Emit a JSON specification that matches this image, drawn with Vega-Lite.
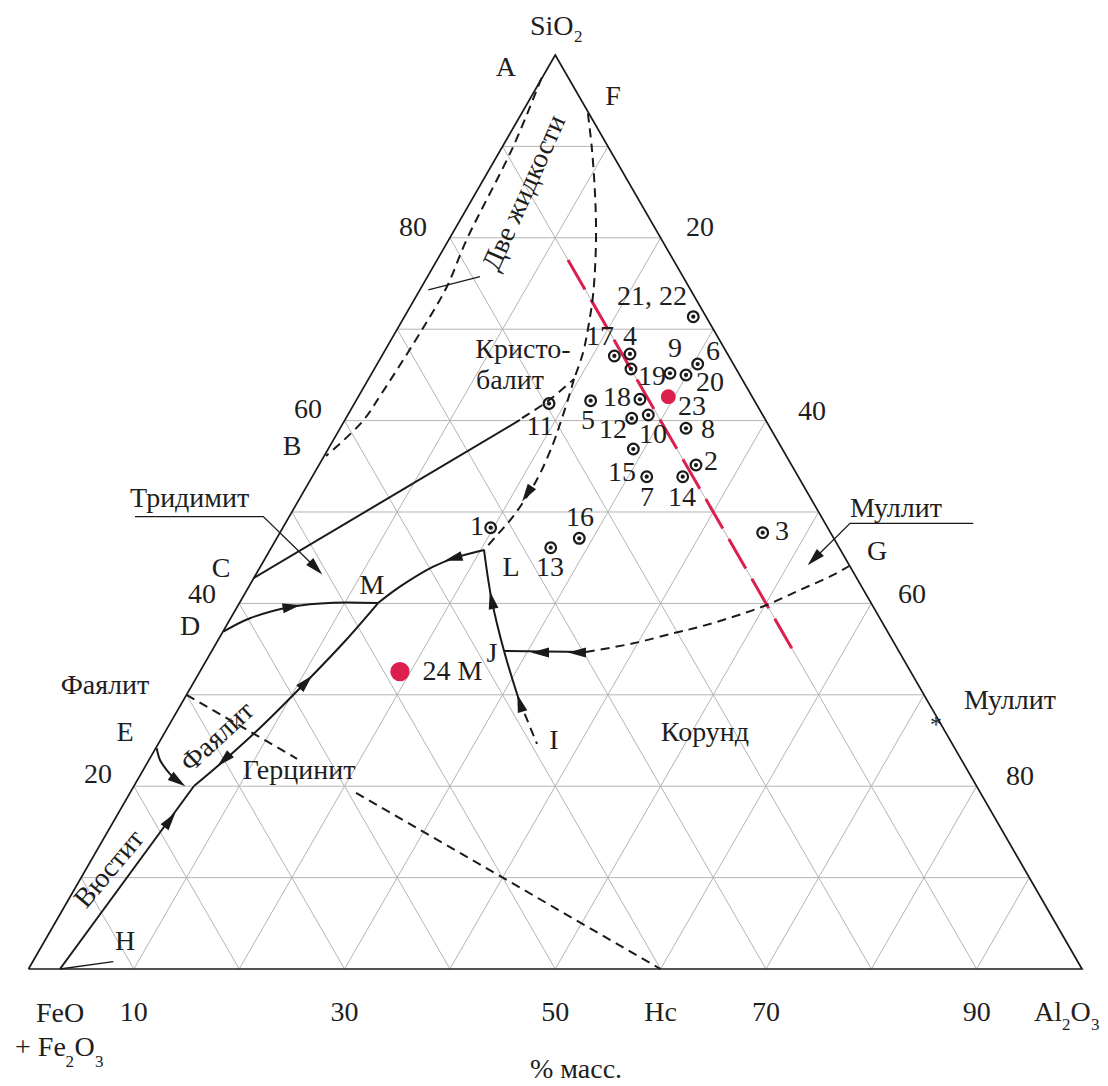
{
  "$schema": "https://vega.github.io/schema/vega-lite/v6.json",
  "width": 1108,
  "height": 1086,
  "padding": 0,
  "autosize": {"type": "none"},
  "background": "white",
  "config": {"view": {"stroke": null}},
  "datasets": {
    "grid": [
      {"g":"h10","X":5,"Y":10},{"g":"h10","X":95,"Y":10},
      {"g":"h20","X":10,"Y":20},{"g":"h20","X":90,"Y":20},
      {"g":"h30","X":15,"Y":30},{"g":"h30","X":85,"Y":30},
      {"g":"h40","X":20,"Y":40},{"g":"h40","X":80,"Y":40},
      {"g":"h50","X":25,"Y":50},{"g":"h50","X":75,"Y":50},
      {"g":"h60","X":30,"Y":60},{"g":"h60","X":70,"Y":60},
      {"g":"h70","X":35,"Y":70},{"g":"h70","X":65,"Y":70},
      {"g":"h80","X":40,"Y":80},{"g":"h80","X":60,"Y":80},
      {"g":"h90","X":45,"Y":90},{"g":"h90","X":55,"Y":90},
      {"g":"a10","X":10,"Y":0},{"g":"a10","X":55,"Y":90},
      {"g":"a20","X":20,"Y":0},{"g":"a20","X":60,"Y":80},
      {"g":"a30","X":30,"Y":0},{"g":"a30","X":65,"Y":70},
      {"g":"a40","X":40,"Y":0},{"g":"a40","X":70,"Y":60},
      {"g":"a50","X":50,"Y":0},{"g":"a50","X":75,"Y":50},
      {"g":"a60","X":60,"Y":0},{"g":"a60","X":80,"Y":40},
      {"g":"a70","X":70,"Y":0},{"g":"a70","X":85,"Y":30},
      {"g":"a80","X":80,"Y":0},{"g":"a80","X":90,"Y":20},
      {"g":"a90","X":90,"Y":0},{"g":"a90","X":95,"Y":10},
      {"g":"b10","X":10,"Y":0},{"g":"b10","X":5,"Y":10},
      {"g":"b20","X":20,"Y":0},{"g":"b20","X":10,"Y":20},
      {"g":"b30","X":30,"Y":0},{"g":"b30","X":15,"Y":30},
      {"g":"b40","X":40,"Y":0},{"g":"b40","X":20,"Y":40},
      {"g":"b50","X":50,"Y":0},{"g":"b50","X":25,"Y":50},
      {"g":"b60","X":60,"Y":0},{"g":"b60","X":30,"Y":60},
      {"g":"b70","X":70,"Y":0},{"g":"b70","X":35,"Y":70},
      {"g":"b80","X":80,"Y":0},{"g":"b80","X":40,"Y":80},
      {"g":"b90","X":90,"Y":0},{"g":"b90","X":45,"Y":90}
    ],
    "tri": [
      {"o":1,"X":0,"Y":0},{"o":2,"X":100,"Y":0},{"o":3,"X":50,"Y":100},{"o":4,"X":0,"Y":0}
    ],
    "solid": [
      {"g":"CP","o":1,"X":21.34,"Y":42.75},{"g":"CP","o":2,"X":46.65,"Y":60.07},
      {"g":"LM","o":1,"X":43.24,"Y":45.84},{"g":"LM","o":2,"X":40.32,"Y":44.93},{"g":"LM","o":3,"X":38.42,"Y":44.02},{"g":"LM","o":4,"X":35.26,"Y":41.83},{"g":"LM","o":5,"X":33.18,"Y":40.04},
      {"g":"DM","o":1,"X":18.49,"Y":36.9},{"g":"DM","o":2,"X":21.02,"Y":38.37},{"g":"DM","o":3,"X":24.98,"Y":39.64},{"g":"DM","o":4,"X":28.93,"Y":40.08},{"g":"DM","o":5,"X":33.18,"Y":40.04},
      {"g":"MK","o":1,"X":33.18,"Y":40.04},{"g":"MK","o":2,"X":30.14,"Y":36.0},{"g":"MK","o":3,"X":26.34,"Y":31.4},{"g":"MK","o":4,"X":22.16,"Y":26.59},{"g":"MK","o":5,"X":18.18,"Y":22.43},{"g":"MK","o":6,"X":15.71,"Y":20.02},
      {"g":"KH","o":1,"X":15.71,"Y":20.02},{"g":"KH","o":2,"X":2.99,"Y":0},
      {"g":"E","o":1,"X":12.17,"Y":24.15},{"g":"E","o":2,"X":12.48,"Y":22.87},{"g":"E","o":3,"X":13.12,"Y":21.77},{"g":"E","o":4,"X":13.81,"Y":20.9},
      {"g":"LJ","o":1,"X":43.24,"Y":45.84},{"g":"LJ","o":2,"X":43.97,"Y":40.37},{"g":"LJ","o":3,"X":45.14,"Y":34.79},{"g":"LJ","o":4,"X":46.56,"Y":29.43},
      {"g":"JG","o":1,"X":45.14,"Y":34.79},{"g":"JG","o":2,"X":52.92,"Y":34.68}
    ],
    "dashed": [
      {"g":"AB","o":1,"X":48.69,"Y":97.48},{"g":"AB","o":2,"X":45.99,"Y":89.93},{"g":"AB","o":3,"X":41.62,"Y":79.87},{"g":"AB","o":4,"X":39.7,"Y":74.62},{"g":"AB","o":5,"X":37.45,"Y":70.13},{"g":"AB","o":6,"X":33.55,"Y":63.02},{"g":"AB","o":7,"X":31.66,"Y":59.85},{"g":"AB","o":8,"X":28.24,"Y":56.13},
      {"g":"F","o":1,"X":53.1,"Y":93.6},{"g":"F","o":2,"X":53.46,"Y":89.97},{"g":"F","o":3,"X":53.77,"Y":84.9},{"g":"F","o":4,"X":53.87,"Y":79.87},{"g":"F","o":5,"X":53.61,"Y":73.96},{"g":"F","o":6,"X":53.14,"Y":70.27},{"g":"F","o":7,"X":52.63,"Y":67.4},{"g":"F","o":8,"X":51.78,"Y":64.55},
      {"g":"CPd","o":1,"X":46.84,"Y":60.28},{"g":"CPd","o":2,"X":49.31,"Y":62.14},{"g":"CPd","o":3,"X":51.78,"Y":64.55},
      {"g":"PL","o":1,"X":51.78,"Y":64.55},{"g":"PL","o":2,"X":51.4,"Y":63.02},{"g":"PL","o":3,"X":50.64,"Y":60.28},{"g":"PL","o":4,"X":49.81,"Y":57.52},{"g":"PL","o":5,"X":48.24,"Y":53.5},{"g":"PL","o":6,"X":45.99,"Y":49.49},{"g":"PL","o":7,"X":44.57,"Y":47.59},{"g":"PL","o":8,"X":43.24,"Y":45.84},
      {"g":"JI","o":1,"X":46.56,"Y":29.43},{"g":"JI","o":2,"X":48.27,"Y":24.62},
      {"g":"JGd","o":1,"X":52.92,"Y":34.68},{"g":"JGd","o":2,"X":57.41,"Y":35.63},{"g":"JGd","o":3,"X":61.2,"Y":36.73},{"g":"JGd","o":4,"X":63.74,"Y":37.45},{"g":"JGd","o":5,"X":66.9,"Y":38.54},{"g":"JGd","o":6,"X":70.07,"Y":39.83},{"g":"JGd","o":7,"X":73.23,"Y":41.47},{"g":"JGd","o":8,"X":76.39,"Y":43.11},{"g":"JGd","o":9,"X":77.9,"Y":44.09},
      {"g":"FH1","o":1,"X":15,"Y":30},{"g":"FH1","o":2,"X":25.49,"Y":23.0},
      {"g":"FH2","o":1,"X":31.09,"Y":19.27},{"g":"FH2","o":2,"X":60,"Y":0}
    ],
    "red": [
      {"X":51.21,"Y":77.57},{"X":72.7,"Y":34.6}
    ],
    "leader": [
      {"g":"t2","o":1,"X":37.95,"Y":74.29},{"g":"t2","o":2,"X":42.86,"Y":75.74},
      {"g":"H","o":1,"X":2.99,"Y":0},{"g":"H","o":2,"X":8.05,"Y":0.8},
      {"g":"T","o":1,"X":10.11,"Y":49.5},{"g":"T","o":2,"X":22.29,"Y":49.5},{"g":"T","o":3,"X":27.29,"Y":43.87},
      {"g":"Mu","o":1,"X":89.68,"Y":48.76},{"g":"Mu","o":2,"X":77.98,"Y":48.76},{"g":"Mu","o":3,"X":74.56,"Y":44.86}
    ],
    "arrows": [
      {"X":47.32,"Y":51.97,"dir":213},
      {"X":40.32,"Y":44.93,"dir":255},
      {"X":24.98,"Y":39.64,"dir":80},
      {"X":26.34,"Y":31.4,"dir":43},
      {"X":18.56,"Y":22.87,"dir":226},
      {"X":13.43,"Y":16.3,"dir":37},
      {"X":14.19,"Y":20.57,"dir":125},
      {"X":43.97,"Y":40.37,"dir":348},
      {"X":46.65,"Y":29.1,"dir":343},
      {"X":48.55,"Y":34.63,"dir":270},
      {"X":52.06,"Y":34.63,"dir":270},
      {"X":27.29,"Y":43.87,"dir":136},
      {"X":74.56,"Y":44.86,"dir":225}
    ],
    "samples": [
      {"n":"21, 22","X":63.1,"Y":71.37},
      {"n":"17","X":55.61,"Y":67.07},
      {"n":"4","X":57.09,"Y":67.29},
      {"n":"19","X":57.19,"Y":65.65},
      {"n":"9","X":60.89,"Y":65.18},
      {"n":"20","X":62.41,"Y":64.99},
      {"n":"6","X":63.52,"Y":66.19},
      {"n":"18","X":58.04,"Y":62.33},
      {"n":"5","X":53.36,"Y":62.18},
      {"n":"12","X":57.26,"Y":60.25},
      {"n":"10","X":58.83,"Y":60.61},
      {"n":"8","X":62.41,"Y":59.16},
      {"n":"11","X":49.41,"Y":61.87},
      {"n":"unlabelled","X":57.41,"Y":56.89},
      {"n":"7","X":58.68,"Y":53.86},
      {"n":"2","X":63.36,"Y":55.14},
      {"n":"14","X":62.1,"Y":53.86},
      {"n":"3","X":69.69,"Y":47.74},
      {"n":"1","X":43.87,"Y":48.28},
      {"n":"16","X":52.28,"Y":47.12},
      {"n":"13","X":49.57,"Y":46.09}
    ],
    "dot23": [{"n":"23","X":60.73,"Y":62.62}],
    "dot24": [{"n":"24","X":35.26,"Y":32.53}],
    "labels": [
      {"t":"A","X":45.32,"Y":98.58},
      {"t":"F","X":55.48,"Y":95.4},
      {"t":"80","X":36.5,"Y":81.07},
      {"t":"20","X":63.74,"Y":81.07},
      {"t":"60","X":26.53,"Y":61.16},
      {"t":"B","X":25.01,"Y":57.11},
      {"t":"40","X":74.37,"Y":60.94},
      {"t":"Кристо-","X":46.94,"Y":67.72},
      {"t":"балит","X":45.7,"Y":64.33},
      {"t":"Тридимит","X":15.3,"Y":51.39},
      {"t":"C","X":18.27,"Y":43.76},
      {"t":"40","X":16.47,"Y":40.92},
      {"t":"D","X":15.33,"Y":37.42},
      {"t":"M","X":32.61,"Y":41.9},
      {"t":"L","X":45.8,"Y":43.87},
      {"t":"J","X":44.0,"Y":34.46},
      {"t":"24 M","X":40.25,"Y":32.53},
      {"t":"I","X":49.88,"Y":24.95},
      {"t":"Фаялит","X":7.26,"Y":30.96},
      {"t":"E","X":9.16,"Y":25.82},
      {"t":"20","X":6.6,"Y":21.23},
      {"t":"Герцинит","X":25.68,"Y":21.66},
      {"t":"Корунд","X":64.21,"Y":25.82},
      {"t":"Муллит","X":82.34,"Y":50.33},
      {"t":"G","X":80.54,"Y":45.62},
      {"t":"60","X":83.86,"Y":40.92},
      {"t":"Муллит","X":93.16,"Y":29.32},
      {"t":"80","X":94.11,"Y":21.01},
      {"t":"H","X":9.16,"Y":2.95},
      {"t":"FeO","X":2.99,"Y":-4.92},
      {"t":"10","X":10,"Y":-4.81},
      {"t":"30","X":30,"Y":-4.81},
      {"t":"50","X":50,"Y":-4.81},
      {"t":"Hc","X":60,"Y":-4.81},
      {"t":"70","X":70,"Y":-4.81},
      {"t":"90","X":90,"Y":-4.81},
      {"t":"% масс.","X":51.97,"Y":-11.1},
      {"t":"21, 22","X":59.18,"Y":73.52},
      {"t":"17","X":54.25,"Y":69.15},
      {"t":"4","X":57.09,"Y":69.15},
      {"t":"9","X":61.37,"Y":67.83},
      {"t":"6","X":64.97,"Y":67.51},
      {"t":"19","X":59.18,"Y":64.77},
      {"t":"20","X":64.69,"Y":64.15},
      {"t":"18","X":55.86,"Y":62.47},
      {"t":"23","X":62.98,"Y":61.45},
      {"t":"5","X":53.11,"Y":59.96},
      {"t":"11","X":48.55,"Y":59.3},
      {"t":"12","X":55.48,"Y":58.97},
      {"t":"10","X":59.28,"Y":58.42},
      {"t":"8","X":64.5,"Y":58.97},
      {"t":"2","X":64.78,"Y":55.47},
      {"t":"15","X":56.34,"Y":54.27},
      {"t":"7","X":58.71,"Y":51.53},
      {"t":"14","X":62.03,"Y":51.53},
      {"t":"3","X":71.52,"Y":47.81},
      {"t":"1","X":42.57,"Y":48.36},
      {"t":"16","X":52.35,"Y":49.34},
      {"t":"13","X":49.5,"Y":43.87}
    ],
    "leftlabels": [
      {"t":"SiO","X":47.6,"Y":103.06},
      {"t":"+ Fe","X":-1.28,"Y":-8.64},
      {"t":"O","X":4.37,"Y":-8.64},
      {"t":"Al","X":95.45,"Y":-4.81},
      {"t":"O","X":98.91,"Y":-4.81}
    ],
    "subs": [
      {"t":"2","X":51.78,"Y":101.97},
      {"t":"2","X":3.51,"Y":-10.18},
      {"t":"3","X":6.31,"Y":-10.18},
      {"t":"2","X":98.1,"Y":-6.13},
      {"t":"3","X":100.86,"Y":-6.13}
    ],
    "star": [{"t":"*","X":86.14,"Y":26.7}],
    "rot1": [{"t":"Две жидкости","X":47.1,"Y":84.9}],
    "rot2": [{"t":"Фаялит","X":17.95,"Y":25.35}],
    "rot3": [{"t":"Вюстит","X":7.7,"Y":10.9}]
  },
  "encoding": {
    "x": {"field":"X","type":"quantitative","scale":{"domain":[-2.705,102.468],"nice":false,"zero":false},"axis":null},
    "y": {"field":"Y","type":"quantitative","scale":{"domain":[-12.801,106.017],"nice":false,"zero":false},"axis":null}
  },
  "layer": [
    {"data":{"name":"grid"},"mark":{"type":"line","color":"#b4b4b4","strokeWidth":1},"encoding":{"detail":{"field":"g"}}},
    {"data":{"name":"tri"},"mark":{"type":"line","color":"#1a1a1a","strokeWidth":1.7,"strokeJoin":"miter"},"encoding":{"order":{"field":"o","type":"quantitative"}}},
    {"data":{"name":"red"},"mark":{"type":"line","color":"#dc1f4c","strokeWidth":3,"strokeDash":[34,12]},"encoding":{}},
    {"data":{"name":"solid"},"mark":{"type":"line","color":"#1a1a1a","strokeWidth":2,"interpolate":"catmull-rom"},"encoding":{"detail":{"field":"g"},"order":{"field":"o","type":"quantitative"}}},
    {"data":{"name":"dashed"},"mark":{"type":"line","color":"#1a1a1a","strokeWidth":2,"strokeDash":[9,6],"interpolate":"catmull-rom"},"encoding":{"detail":{"field":"g"},"order":{"field":"o","type":"quantitative"}}},
    {"data":{"name":"leader"},"mark":{"type":"line","color":"#1a1a1a","strokeWidth":1.3},"encoding":{"detail":{"field":"g"},"order":{"field":"o","type":"quantitative"}}},
    {"data":{"name":"arrows"},"mark":{"type":"point","shape":"M0,-1L0.55,1L-0.55,1Z","filled":true,"color":"#1a1a1a","opacity":1,"size":324},"encoding":{"angle":{"field":"dir","type":"quantitative","scale":null}}},
    {"data":{"name":"samples"},"mark":{"type":"point","shape":"circle","filled":false,"color":"#1a1a1a","strokeWidth":2.2,"opacity":1,"size":115},"encoding":{}},
    {"data":{"name":"samples"},"mark":{"type":"point","shape":"circle","filled":true,"color":"#1a1a1a","opacity":1,"size":18},"encoding":{}},
    {"data":{"name":"dot23"},"mark":{"type":"point","shape":"circle","filled":true,"color":"#dc1f4c","opacity":1,"size":220},"encoding":{}},
    {"data":{"name":"dot24"},"mark":{"type":"point","shape":"circle","filled":true,"color":"#dc1f4c","opacity":1,"size":370},"encoding":{}},
    {"data":{"name":"labels"},"mark":{"type":"text","font":"Liberation Serif","fontSize":28,"color":"#1e1e1e","align":"center","baseline":"middle"},"encoding":{"text":{"field":"t"}}},
    {"data":{"name":"leftlabels"},"mark":{"type":"text","font":"Liberation Serif","fontSize":28,"color":"#1e1e1e","align":"left","baseline":"middle"},"encoding":{"text":{"field":"t"}}},
    {"data":{"name":"subs"},"mark":{"type":"text","font":"Liberation Serif","fontSize":17,"color":"#1e1e1e","align":"left","baseline":"middle"},"encoding":{"text":{"field":"t"}}},
    {"data":{"name":"star"},"mark":{"type":"text","font":"Liberation Serif","fontSize":24,"color":"#1e1e1e","align":"center","baseline":"middle"},"encoding":{"text":{"field":"t"}}},
    {"data":{"name":"rot1"},"mark":{"type":"text","font":"Liberation Serif","fontSize":28,"color":"#1e1e1e","align":"center","baseline":"middle","angle":-66},"encoding":{"text":{"field":"t"}}},
    {"data":{"name":"rot2"},"mark":{"type":"text","font":"Liberation Serif","fontSize":28,"color":"#1e1e1e","align":"center","baseline":"middle","angle":-43},"encoding":{"text":{"field":"t"}}},
    {"data":{"name":"rot3"},"mark":{"type":"text","font":"Liberation Serif","fontSize":28,"color":"#1e1e1e","align":"center","baseline":"middle","angle":-50},"encoding":{"text":{"field":"t"}}}
  ]
}
